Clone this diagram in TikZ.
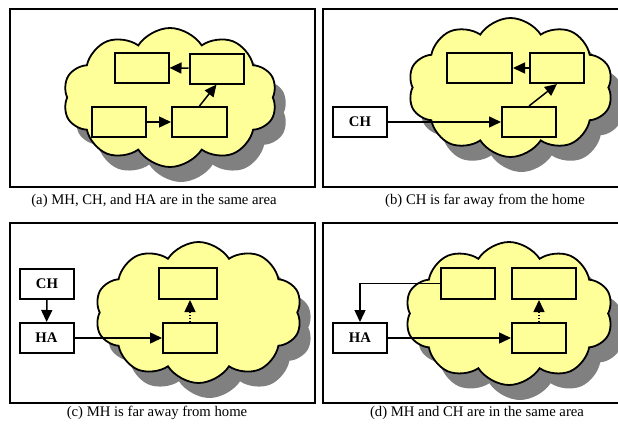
\documentclass[tikz,border=0pt]{standalone}
\usepackage{fontspec}
\setmainfont{Liberation Serif}
\usetikzlibrary{arrows.meta, positioning, shapes.symbols, shadows}
\definecolor{cloudyellow}{HTML}{FFFF99}
\definecolor{shadowgray}{HTML}{808080}

\begin{document}
\begin{tikzpicture}[x=1pt, y=-1pt,
    every node/.style={font=\fontsize{14.7}{17}\selectfont},
    frame/.style={line width=2.4pt},
    area/.style={cloud, cloud puffs=10, cloud puff arc=115, cloud ignores aspect,
        draw=black, line width=1.8pt, fill=cloudyellow, inner sep=0pt,
        drop shadow={shadow xshift=11pt, shadow yshift=-15pt, fill=shadowgray, opacity=1}},
    host/.style={draw=black, line width=2pt, fill=cloudyellow,
        minimum width=54pt, minimum height=30pt, inner sep=0pt},
    agent/.style={host, fill=white, font=\fontsize{14.7}{17}\selectfont\bfseries},
    link/.style={line width=1.5pt, -{Triangle[length=12pt, width=11pt]}},
    tunnel/.style={link, dash pattern=on 1.3pt off 1.7pt}]
    \useasboundingbox (0,0) rectangle (618,426);

    % frames
    \draw[frame] (10,9) rectangle (315,187);
    \draw[frame] (618,9) -- (323,9) -- (323,187) -- (618,187);
    \draw[frame] (10,223) rectangle (315,403);
    \draw[frame] (618,223) -- (323,223) -- (323,403) -- (618,403);

    % clouds
    \node[area, minimum width=214pt, minimum height=139pt] (cloudA) at (170,97.5) {};
    \node[area, minimum width=205pt, minimum height=139pt] (cloudB) at (510.5,87.5) {};
    \node[area, minimum width=207pt, minimum height=141pt] (cloudC) at (198.5,312.5) {};
    \node[area, minimum width=208pt, minimum height=143pt] (cloudD) at (509,313.5) {};

    % (a)
    \node[host] (aTL) at (141.5,67.5) {};
    \node[host] (aTR) at (216.5,68.5) {};
    \node[host] (aBL) at (118.5,122) {};
    \node[host, minimum width=55pt] (aBR) at (199.5,122) {};
    \draw[link] (aBL) -- (aBR);
    \draw[link] (aBR.north) -- (aTR.south);
    \draw[link] (aTR) -- (aTL);

    % (b)
    \node[host, minimum width=65pt] (bTL) at (479.5,68) {};
    \node[host] (bTR) at (557,68) {};
    \node[host] (bBR) at (529,122) {};
    \node[agent] (bCH) at (360,122) {CH};
    \draw[link] (bCH) -- (bBR);
    \draw[link] (bBR.north) -- (bTR.south);
    \draw[link] (bTR) -- (bTL);

    % (c)
    \node[host, minimum width=58pt, minimum height=31pt] (cT) at (188,283.5) {};
    \node[host] (cB) at (190,338) {};
    \node[agent] (cCH) at (47,284) {CH};
    \node[agent] (cHA) at (46.5,338) {HA};
    \draw[link] (cCH) -- (cHA);
    \draw[link] (cHA) -- (cB);
    \draw[tunnel] (cB.north) -- (cB.north |- cT.south);

    % (d)
    \node[host, minimum height=31pt] (dTL) at (467.5,283.5) {};
    \node[host, minimum width=64pt, minimum height=31pt] (dTR) at (544,283.5) {};
    \node[host] (dBR) at (539,338) {};
    \node[agent] (dHA) at (360,338) {HA};
    \draw[link] (dTL.west) -| (dHA.north);
    \draw[link] (dHA) -- (dBR);
    \draw[tunnel] (dBR.north) -- (dBR.north |- dTR.south);

    % captions
    \node (capA) at (154,201) {(a) MH, CH, and HA are in the same area};
    \node (capB) at (485,201) {(b) CH is far away from the home};
    \node (capC) at (157,413) {(c) MH is far away from home};
    \node (capD) at (477,413) {(d) MH and CH are in the same area};
\end{tikzpicture}
\end{document}
